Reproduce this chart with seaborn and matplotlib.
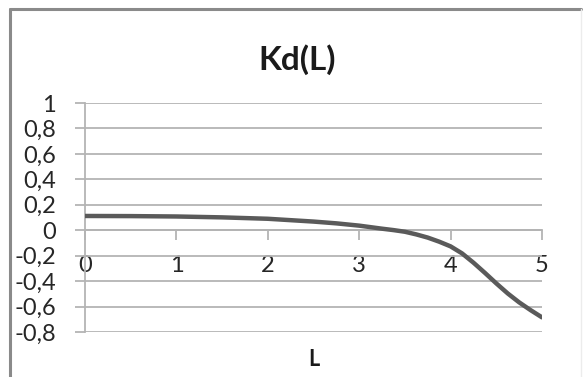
import matplotlib
matplotlib.use("Agg")
import matplotlib.pyplot as plt
from matplotlib.lines import Line2D
from matplotlib.ticker import FuncFormatter
import seaborn as sns
import pandas as pd

# Kd as a function of L
L = [0, 0.5, 1, 1.5, 2, 2.5, 2.75, 3, 3.25, 3.375, 3.5, 3.625, 3.75, 3.875,
     4, 4.125, 4.25, 4.375, 4.5, 4.625, 4.75, 4.875, 5]
Kd = [0.112, 0.111, 0.108, 0.101, 0.090, 0.068, 0.054, 0.036, 0.012, 0.001,
      -0.012, -0.033, -0.058, -0.090, -0.127, -0.182, -0.255, -0.335, -0.418,
      -0.497, -0.567, -0.628, -0.685]

title = "Kd(L)"
x_label = "L"
y_ticks = [1, 0.8, 0.6, 0.4, 0.2, 0, -0.2, -0.4, -0.6, -0.8]
x_ticks = [0, 1, 2, 3, 4, 5]

sns.set_style("white")
plt.rcParams["font.family"] = ["Lato", "DejaVu Sans"]

df = pd.DataFrame({"L": L, "Kd": Kd})

fig = plt.figure(figsize=(5.85, 3.77), dpi=100)
ax = fig.add_axes([85 / 585, 1 - 332 / 377, (542 - 85) / 585, (332 - 103) / 377])

grid_c = "#b4b4b4"
sns.lineplot(data=df, x="L", y="Kd", ax=ax, color="#5a5a5a", linewidth=3.2,
             solid_capstyle="round", solid_joinstyle="round", zorder=3)

ax.set_xlim(0, 5)
ax.set_ylim(-0.8, 1)
ax.set_yticks(y_ticks)
ax.set_xticks(x_ticks)
ax.yaxis.set_major_formatter(FuncFormatter(lambda v, p: f"{v:g}".replace(".", ",").replace("−", "-")))
ax.xaxis.set_major_formatter(FuncFormatter(lambda v, p: f"{v:g}"))

ax.grid(axis="y", color=grid_c, linewidth=1.3)
ax.grid(axis="x", visible=False)

for s in ["top", "right"]:
    ax.spines[s].set_visible(False)
ax.spines["left"].set_color(grid_c)
ax.spines["left"].set_linewidth(1.3)
ax.spines["bottom"].set_position(("data", 0))
ax.spines["bottom"].set_color(grid_c)
ax.spines["bottom"].set_linewidth(1.3)

ax.tick_params(axis="y", direction="out", length=7, width=1.3, color=grid_c,
               pad=14, labelsize=17, labelcolor="#262626", left=True)
ax.tick_params(axis="x", direction="out", length=7, width=1.3, color=grid_c,
               pad=11, labelsize=17, labelcolor="#262626", bottom=True)

ax.set_xlabel("")
ax.set_ylabel("")
fig.text(314 / 585, 1 - 360 / 377, x_label, ha="center", va="center",
         fontsize=15.5, fontweight="bold", color="#1a1a1a")
fig.text(297 / 585, 1 - 60 / 377, title, ha="center", va="center",
         fontsize=24, fontweight="bold", color="#1a1a1a")

# chart frame
border = "#8a8a8a"
fig.add_artist(Line2D([10 / 585, 10 / 585], [0, 1 - 9 / 377], transform=fig.transFigure,
                      color=border, linewidth=2.2))
fig.add_artist(Line2D([10 / 585, 581 / 585], [1 - 9 / 377, 1 - 9 / 377], transform=fig.transFigure,
                      color=border, linewidth=2.2))
fig.add_artist(Line2D([581 / 585, 581 / 585], [0, 1 - 9 / 377], transform=fig.transFigure,
                      color="#ececec", linewidth=1.0))

fig.savefig("out.png", dpi=100)
